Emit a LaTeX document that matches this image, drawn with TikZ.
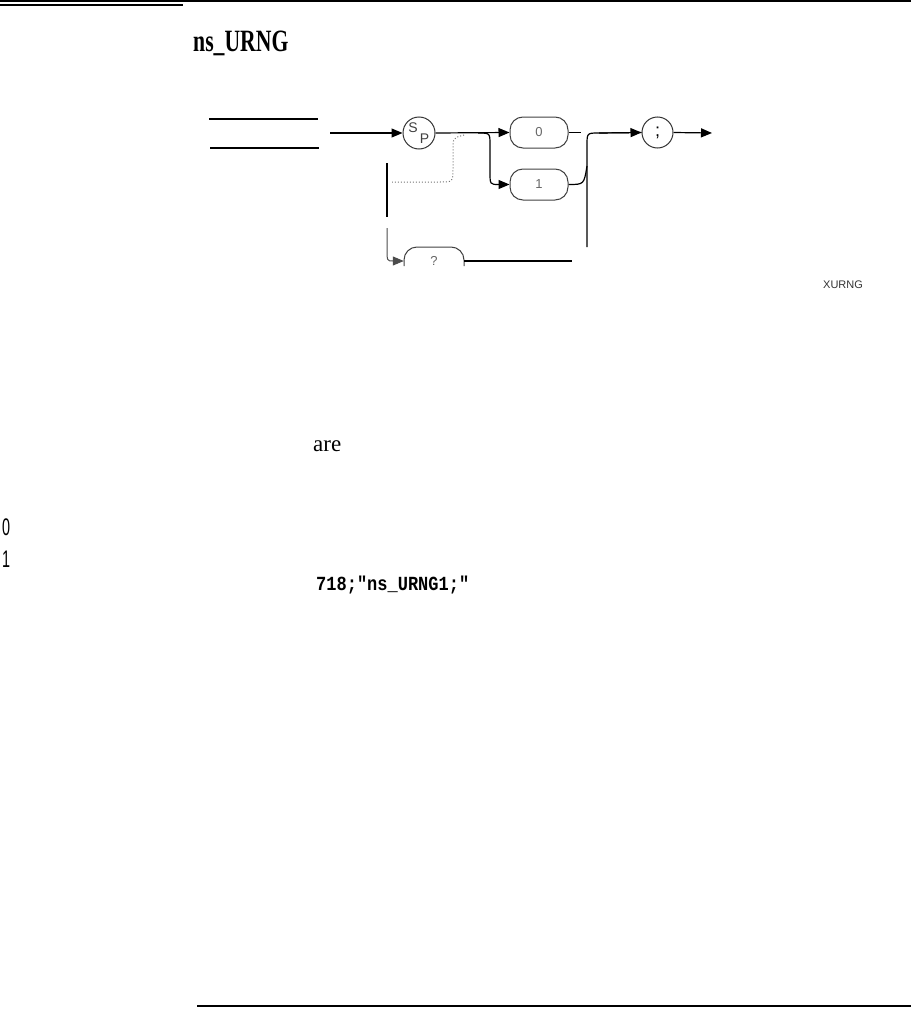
\documentclass[tikz,border=0pt]{standalone}
\usepackage{fontspec}
\setmainfont{Liberation Serif}
\setsansfont{Liberation Sans}
\setmonofont{Liberation Mono}
\usetikzlibrary{arrows.meta}
\begin{document}
\begin{tikzpicture}[x=1pt,y=-1pt,
  ln/.style={line width=1.2pt,black},
  gl/.style={line width=1pt,black!70},
  arr/.style={-{Triangle[length=11pt,width=9pt]}},
  rbox/.style={draw=black!75,line width=1pt,rounded corners=13pt,minimum width=58pt,minimum height=31pt,inner sep=0pt,font=\sffamily\fontsize{13}{13}\selectfont,text=black!60},
  circ/.style={draw=black!80,line width=1pt,circle,inner sep=0pt},
  lbl/.style={inner sep=0pt,font=\sffamily\fontsize{14}{14}\selectfont,text=black!75},
  plain/.style={anchor=base west,inner sep=0pt}]
\useasboundingbox (0,0) rectangle (911,1009);
% page rules
\fill (0,0) rectangle (911,2);
\fill (0,3.5) rectangle (183,6);
\draw[line width=1.3pt] (197,1006) -- (911,1006);
% title
\node[plain] (title) at (193,51) {\scalebox{0.7}[1]{\fontsize{31}{31}\selectfont\bfseries ns\_URNG}};
% left lines
\draw[ln] (209,119) -- (318,119);
\draw[ln] (210,148) -- (319,148);
% nodes
\node[circ,minimum size=32pt] (sp) at (419,133) {};
\node[lbl] (spS) at (413,127.5) {S};
\node[lbl] (spP) at (424.5,139) {P};
\node[rbox] (b0) at (539,132.5) {0};
\node[rbox] (b1) at (539,184.5) {1};
\node[circ,minimum size=31pt,font=\sffamily\fontsize{18}{18}\selectfont] (semi) at (657.5,132.5) {;};
\node[inner sep=0pt,minimum width=60pt,minimum height=28pt,font=\sffamily\fontsize{13}{13}\selectfont,text=black!60] (bq) at (434,261) {?};
\draw[draw=black!75,line width=1pt,rounded corners=13pt] (404,266) -- (404,247) -- (464,247) -- (464,266);
% coordinates
\coordinate (in) at (330,133);
\coordinate (out) at (712,133);
\coordinate (qend) at (572,261);
% connectors
\draw[ln,arr] (in) -- (sp.west);
\draw[ln,arr] (sp.east) -- (b0.west);
\draw[ln,arr] (478,133) .. controls (490,133) .. (490,145) -- (490,172) .. controls (490,184.5) .. (b1.west);
\draw[ln] (b0.east) -- ++(12,0);
\draw[ln] (587,247) -- (587,145) .. controls (587,133) .. (599,133) -- (semi.west);
\draw[ln,arr] (599,133) -- (semi.west);
\draw[ln] (b1.east) .. controls (584,184.5) .. (587,166);
\draw[ln,arr] (semi.east) -- (out);
\draw[black!55,line width=1pt,dotted] (464,135) .. controls (453,138) .. (453,150) -- (453,168) .. controls (453,182) .. (440,182) -- (392,182);
\draw[ln] (387,163) -- (387,217);
\draw[gl,arr] (387,228) -- (387,248) .. controls (387,261) .. (bq.west);
\draw[ln] (bq.east) -- (qend);
\node[plain,font=\sffamily\fontsize{11}{11}\selectfont,text=black!80] (xurng) at (823,288) {XURNG};
% text
\node[plain,font=\fontsize{23}{23}\selectfont] (are) at (313,451) {are};
\node[plain,font=\sffamily\fontsize{24}{24}\selectfont] (d0) at (2,535) {\scalebox{0.6}[1]{0}};
\node[plain,font=\sffamily\fontsize{24}{24}\selectfont] (d1) at (2,567) {\scalebox{0.6}[1]{1}};
\node[plain,font=\ttfamily\bfseries\fontsize{20}{20}\selectfont] (ex) at (316,590) {\scalebox{0.85}[1]{718;"ns\_URNG1;"}};
\end{tikzpicture}
\end{document}
